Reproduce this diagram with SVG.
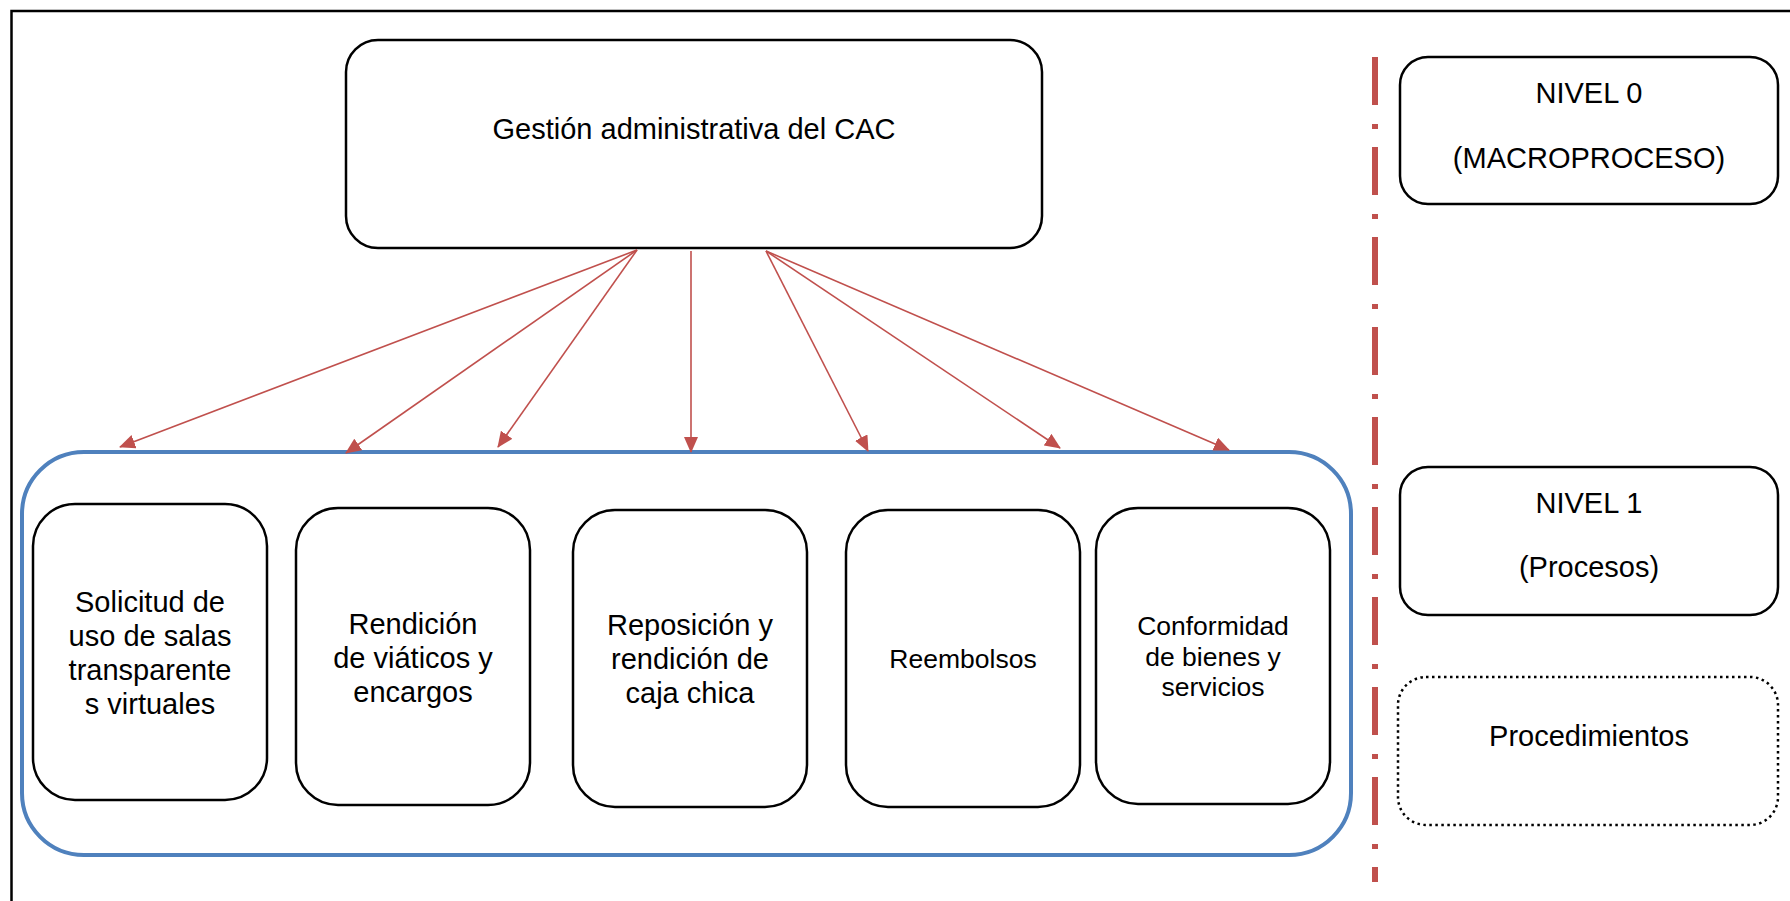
<svg xmlns="http://www.w3.org/2000/svg" width="1790" height="901" viewBox="0 0 1790 901">
  <style>
    .box { fill: #ffffff; stroke: #000000; stroke-width: 2.5; }
    .dotted { fill: #ffffff; stroke: #000000; stroke-width: 2.5; stroke-dasharray: 2.5 3.5; }
    .group { fill: none; stroke: #4F81BD; stroke-width: 4; }
    .conn { fill: none; stroke: #C0504D; stroke-width: 1.6; marker-end: url(#arrow); }
    .divider { fill: none; stroke: #C0504D; stroke-width: 6; stroke-dasharray: 48 19 5 18; }
    text { font-family: "Liberation Sans", Arial, sans-serif; fill: #000000; text-anchor: middle; }
    .t29 { font-size: 29px; }
    .t26 { font-size: 26.5px; }
  </style>
  <defs>
    <marker id="arrow" markerUnits="userSpaceOnUse" markerWidth="16" markerHeight="14" refX="15" refY="7" orient="auto">
      <path d="M0,0 L16,7 L0,14 Z" fill="#C0504D"/>
    </marker>
  </defs>

  <rect x="0" y="0" width="1790" height="901" fill="#ffffff"/>

  <!-- page frame (open at right and bottom) -->
  <path d="M11.5,901 L11.5,11 L1790,11" fill="none" stroke="#000000" stroke-width="2.5"/>

  <!-- level divider -->
  <line class="divider" x1="1375" y1="57" x2="1375" y2="882"/>

  <!-- macroprocess -->
  <g id="macroproceso">
    <rect class="box" x="346" y="40" width="696" height="208" rx="32" ry="32"/>
    <text class="t29" x="694" y="139">Gestión administrativa del CAC</text>
  </g>

  <!-- process container -->
  <g id="procesos">
    <rect class="group" x="22" y="452" width="1329" height="403" rx="62" ry="62"/>
  </g>

  <g id="p1">
    <rect class="box" x="33" y="504" width="234" height="296" rx="42" ry="42"/>
    <text class="t29" x="150" y="612">Solicitud de</text>
    <text class="t29" x="150" y="646">uso de salas</text>
    <text class="t29" x="150" y="680">transparente</text>
    <text class="t29" x="150" y="714">s virtuales</text>
  </g>

  <g id="p2">
    <rect class="box" x="296" y="508" width="234" height="297" rx="42" ry="42"/>
    <text class="t29" x="413" y="634">Rendición</text>
    <text class="t29" x="413" y="668">de viáticos y</text>
    <text class="t29" x="413" y="702">encargos</text>
  </g>

  <g id="p3">
    <rect class="box" x="573" y="510" width="234" height="297" rx="42" ry="42"/>
    <text class="t29" x="690" y="635">Reposición y</text>
    <text class="t29" x="690" y="669">rendición de</text>
    <text class="t29" x="690" y="703">caja chica</text>
  </g>

  <g id="p4">
    <rect class="box" x="846" y="510" width="234" height="297" rx="42" ry="42"/>
    <text class="t26" x="963" y="668">Reembolsos</text>
  </g>

  <g id="p5">
    <rect class="box" x="1096" y="508" width="234" height="296" rx="42" ry="42"/>
    <text class="t26" x="1213" y="635">Conformidad</text>
    <text class="t26" x="1213" y="666">de bienes y</text>
    <text class="t26" x="1213" y="696">servicios</text>
  </g>

  <!-- legend -->
  <g id="nivel0">
    <rect class="box" x="1400" y="57" width="378" height="147" rx="28" ry="28"/>
    <text class="t29" x="1589" y="103">NIVEL 0</text>
    <text class="t29" x="1589" y="168">(MACROPROCESO)</text>
  </g>

  <g id="nivel1">
    <rect class="box" x="1400" y="467" width="378" height="148" rx="28" ry="28"/>
    <text class="t29" x="1589" y="513">NIVEL 1</text>
    <text class="t29" x="1589" y="577">(Procesos)</text>
  </g>

  <g id="procedimientos">
    <rect class="dotted" x="1398" y="677" width="380" height="148" rx="28" ry="28"/>
    <text class="t29" x="1589" y="746">Procedimientos</text>
  </g>

  <!-- connectors -->
  <g id="connectors">
    <line class="conn" x1="637" y1="250" x2="120" y2="447"/>
    <line class="conn" x1="637" y1="250" x2="346" y2="453"/>
    <line class="conn" x1="637" y1="250" x2="498" y2="447"/>
    <line class="conn" x1="691" y1="251" x2="691" y2="452"/>
    <line class="conn" x1="766" y1="251" x2="868" y2="451"/>
    <line class="conn" x1="766" y1="251" x2="1060" y2="448"/>
    <line class="conn" x1="766" y1="251" x2="1229" y2="450"/>
  </g>
</svg>
